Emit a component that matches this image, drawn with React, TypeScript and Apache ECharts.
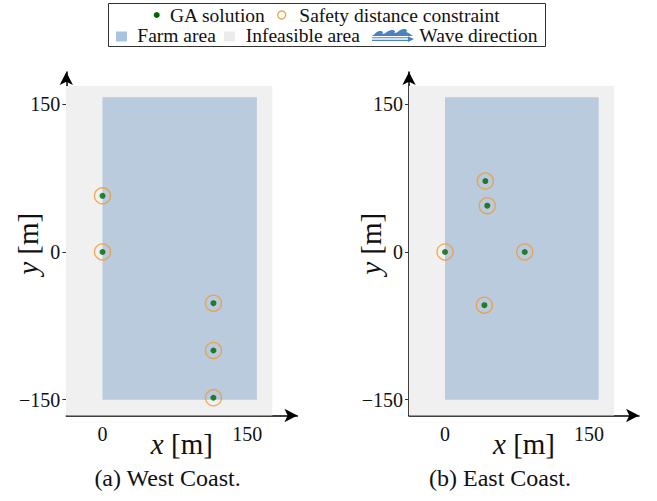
import React, { useEffect, useRef } from "react";
import * as echarts from "echarts";

const FONT = "Liberation Serif, Times New Roman, serif";

// GA solutions (m)
const westX = [0, 0, 115, 115, 115];
const westY = [57, 0, -52, -100, -148];
const eastX = [0, 42, 44, 83, 41];
const eastY = [0, 72, 47, 0, -54];

// areas [xmin, ymin, xmax, ymax]
const farmArea = [0, -150, 160, 157];
const infeasibleArea = [-40, -170, 176, 168.5];

const xTicks = [0, 150];
const yTicks = [-150, 0, 150];

const legendRow1 = ["GA solution", "Safety distance constraint"];
const legendRow2 = ["Farm area", "Infeasible area", "Wave direction"];
const captions = ["(a) West Coast.", "(b) East Coast."];

const WAVE_D =
  "M0 7 C3 7 5 2 9 2 C12 2 13 4 11 5 C15 5.5 16 1 21 1 C24 1 25 3 23 4 C27 4.5 28 0 33 0 C36 0 37 2 35 3 C38 3.5 40 6 42 7 Z";
let waveRegistered = false;
function registerWave() {
  if (waveRegistered) return;
  echarts.graphic.registerShape("wave", echarts.graphic.extendPath(WAVE_D, {}));
  waveRegistered = true;
}

const FARM_COLOR = "#b9cbdc";
const INF_COLOR = "#f0f0f0";
const DOT_COLOR = "#006400";
const RING_COLOR = "#f5962a";
const WAVE_COLOR = "#4a82c0";

function toPairs(xs: number[], ys: number[]) {
  return xs.map((x, i) => [x, ys[i]]);
}

const rectRender = (params: any, api: any) => {
  const p0 = api.coord([api.value(0), api.value(3)]);
  const p1 = api.coord([api.value(2), api.value(1)]);
  return {
    type: "rect",
    shape: { x: p0[0], y: p0[1], width: p1[0] - p0[0], height: p1[1] - p0[1] },
    style: { fill: api.visual("color") },
  };
};

function txt(text: string, x: number, y: number, size: number, align = "left", extra: any = {}) {
  return {
    type: "text",
    x,
    y,
    silent: true,
    style: {
      text,
      fontFamily: FONT,
      fontSize: size,
      fill: "#111",
      align,
      verticalAlign: "middle",
      textAlign: align,
      textVerticalAlign: "middle",
      ...extra,
    },
  };
}

export default function App() {
  const ref = useRef<HTMLDivElement>(null);
  useEffect(() => {
    if (!ref.current) return;
    registerWave();
    const chart = echarts.init(ref.current, undefined, { renderer: "svg" });

    const axisX = (gi: number) => ({
      type: "value",
      gridIndex: gi,
      min: -37.5,
      max: 202,
      splitLine: { show: false },
      axisLine: {
        show: true,
        onZero: false,
        symbol: ["none", "arrow"],
        symbolSize: [10, 13],
        lineStyle: { color: "#000", width: 1.5 },
      },
      axisTick: { show: true, inside: true, length: 4, customValues: xTicks, lineStyle: { color: "#333" } },
      axisLabel: {
        customValues: xTicks,
        fontFamily: FONT,
        fontSize: 20,
        color: "#111",
        margin: 8,
      },
      name: "{i|x} [m]",
      nameLocation: "middle",
      nameGap: 14,
      nameMoveOverlap: false,
      nameTextStyle: {
        fontFamily: FONT,
        fontSize: 29,
        color: "#111",
        rich: { i: { fontFamily: FONT, fontSize: 29, fontStyle: "italic", color: "#111" } },
      },
    });
    const axisY = (gi: number) => ({
      type: "value",
      gridIndex: gi,
      min: -166,
      max: 182.7,
      splitLine: { show: false },
      axisLine: {
        show: true,
        onZero: false,
        symbol: ["none", "arrow"],
        symbolSize: [10, 13],
        lineStyle: { color: "#000", width: 1.5 },
      },
      axisTick: { show: true, inside: false, length: 4, customValues: yTicks, lineStyle: { color: "#333" } },
      axisLabel: {
        customValues: yTicks,
        fontFamily: FONT,
        fontSize: 20,
        color: "#111",
        margin: 6,
        formatter: (v: number) => String(v).replace("-", "\u2212"),
      },
      name: "{i|y} [m]",
      nameLocation: "middle",
      nameGap: 24,
      nameMoveOverlap: false,
      nameTextStyle: {
        fontFamily: FONT,
        fontSize: 29,
        color: "#111",
        rich: { i: { fontFamily: FONT, fontSize: 29, fontStyle: "italic", color: "#111" } },
      },
    });

    const plotSeries = (gi: number, xs: number[], ys: number[]) => [
      {
        type: "custom",
        xAxisIndex: gi,
        yAxisIndex: gi,
        renderItem: rectRender,
        clip: true,
        silent: true,
        encode: { x: [0, 2], y: [1, 3] },
        itemStyle: { color: INF_COLOR },
        data: [infeasibleArea],
        z: 1,
      },
      {
        type: "custom",
        xAxisIndex: gi,
        yAxisIndex: gi,
        renderItem: rectRender,
        clip: true,
        silent: true,
        encode: { x: [0, 2], y: [1, 3] },
        itemStyle: { color: FARM_COLOR },
        data: [farmArea],
        z: 2,
      },
      {
        type: "scatter",
        xAxisIndex: gi,
        yAxisIndex: gi,
        symbol: "circle",
        symbolSize: 16,
        itemStyle: { color: "rgba(0,0,0,0)", borderColor: RING_COLOR, borderWidth: 1.3 },
        data: toPairs(xs, ys),
        z: 3,
      },
      {
        type: "scatter",
        xAxisIndex: gi,
        yAxisIndex: gi,
        symbol: "circle",
        symbolSize: 6,
        itemStyle: { color: DOT_COLOR },
        data: toPairs(xs, ys),
        z: 4,
      },
    ];

    const graphic: any[] = [
      {
        type: "rect",
        shape: { x: 108.5, y: 3.5, width: 437, height: 43 },
        style: { fill: "#fff", stroke: "#333", lineWidth: 1 },
        z: 10,
      },
      { type: "circle", shape: { cx: 156.7, cy: 15, r: 3 }, style: { fill: DOT_COLOR }, z: 11 },
      txt(legendRow1[0], 170, 15.5, 19.5, "left"),
      { type: "circle", shape: { cx: 281.7, cy: 15, r: 4 }, style: { fill: "none", stroke: RING_COLOR, lineWidth: 1.2 }, z: 11 },
      txt(legendRow1[1], 299.3, 15.5, 19.5, "left"),
      { type: "rect", shape: { x: 116, y: 31.5, width: 11, height: 10 }, style: { fill: "#a9c4e0" }, z: 11 },
      txt(legendRow2[0], 137.3, 35, 19.5, "left"),
      { type: "rect", shape: { x: 224, y: 31.5, width: 11, height: 10 }, style: { fill: "#ebebeb" }, z: 11 },
      txt(legendRow2[1], 245.7, 35, 19.5, "left"),
      { type: "wave", x: 371, y: 29, scaleX: 1, scaleY: 1, style: { fill: WAVE_COLOR }, z: 11 },
      { type: "line", shape: { x1: 372, y1: 37.8, x2: 410, y2: 37.8 }, style: { stroke: WAVE_COLOR, lineWidth: 1.1 }, z: 11 },
      { type: "line", shape: { x1: 372, y1: 40.4, x2: 410, y2: 40.4 }, style: { stroke: WAVE_COLOR, lineWidth: 1.1 }, z: 11 },
      { type: "polygon", shape: { points: [[408, 36.2], [414, 39.1], [408, 42]] }, style: { fill: WAVE_COLOR }, z: 11 },
      txt(legendRow2[2], 419.3, 35, 19.5, "left"),
      txt(captions[0], 167.5, 478, 24, "center"),
      txt(captions[1], 500, 478, 24, "center"),
    ];
    graphic.forEach((g) => {
      if (g.type === "text") g.z = 11;
    });

    chart.setOption({
      animation: false,
      backgroundColor: "#fff",
      grid: [
        { left: 66.3, top: 72, width: 231.1, height: 343.5, containLabel: false, outerBoundsMode: "none" },
        { left: 409, top: 72, width: 230, height: 343.5, containLabel: false, outerBoundsMode: "none" },
      ],
      xAxis: [axisX(0), axisX(1)],
      yAxis: [axisY(0), axisY(1)],
      series: [...plotSeries(0, westX, westY), ...plotSeries(1, eastX, eastY)],
      graphic,
    });
    return () => chart.dispose();
  }, []);
  return <div ref={ref} style={{ width: 657, height: 501, position: "absolute", left: 0, top: 0 }} />;
}
